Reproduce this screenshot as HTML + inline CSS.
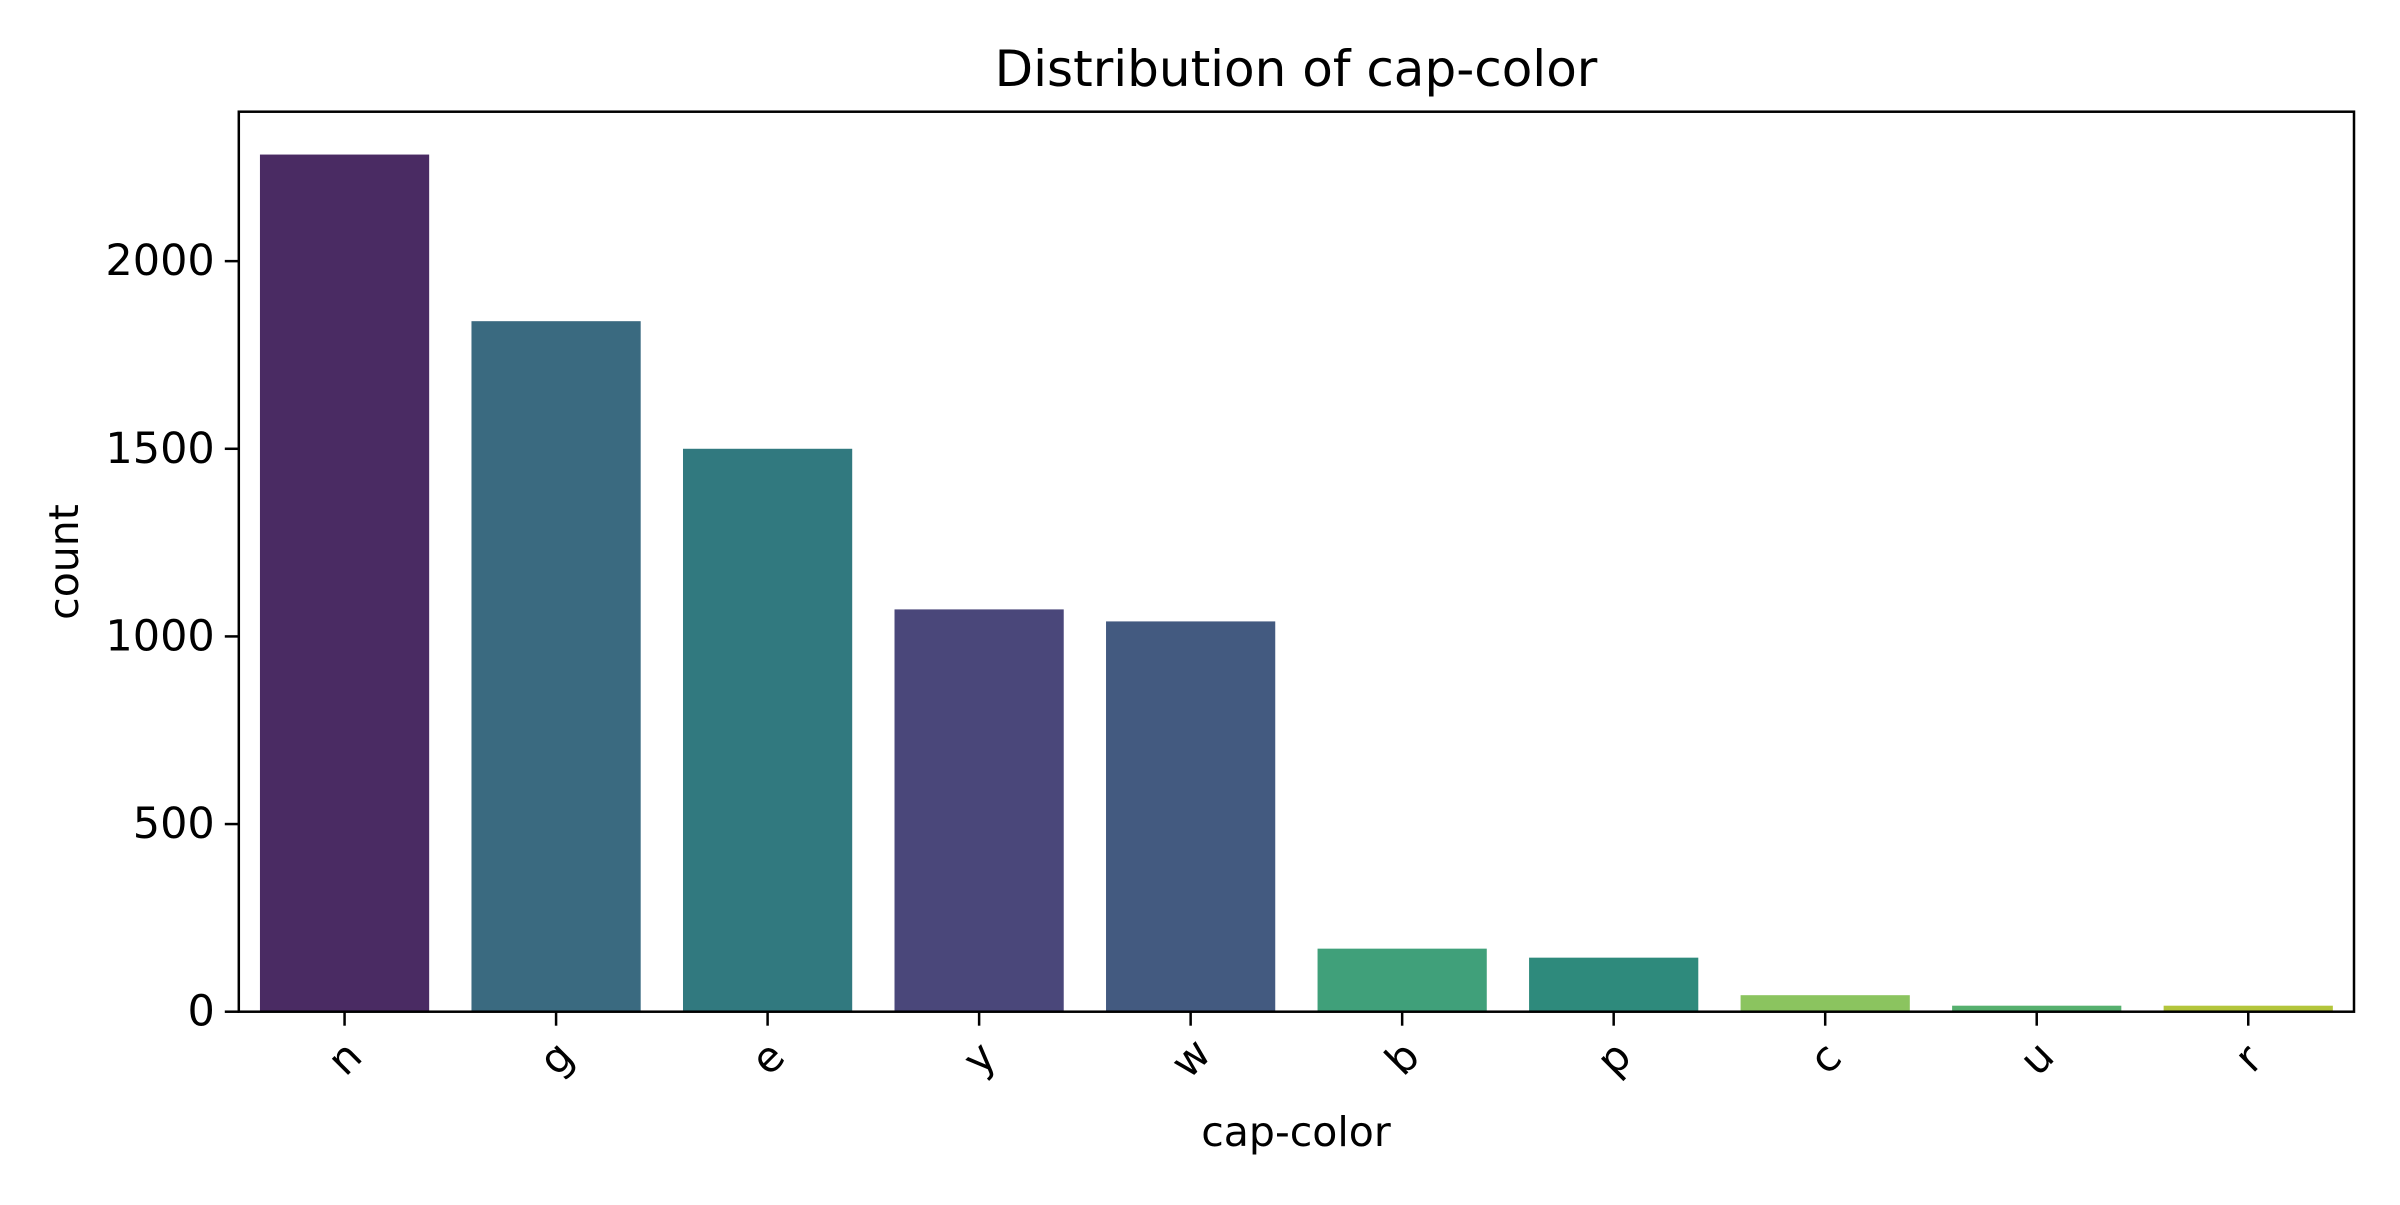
<!DOCTYPE html>
<html><head><meta charset="utf-8"><style>
html,body{margin:0;padding:0;background:#fff;}
svg text{font-family:"DejaVu Sans","Liberation Sans",sans-serif;fill:#000;}
</style></head><body>
<svg id="chart" width="2400" height="1200" viewBox="0 0 2400 1200" xmlns="http://www.w3.org/2000/svg">
<rect width="2400" height="1200" fill="#fff"/>
<text x="1296" y="86" font-size="50" text-anchor="middle">Distribution of cap-color</text>
<g id="bars"></g>
<g id="axes"></g>
<text x="1296" y="1146" font-size="41" text-anchor="middle">cap-color</text>
<text x="0" y="0" font-size="41" text-anchor="middle" transform="translate(78,562) rotate(-90)">count</text>
</svg>
<script>
const categories = ['n','g','e','y','w','b','p','c','u','r'];
const counts = [2284,1840,1500,1072,1040,168,144,44,16,16];
const barColors = ['#4a2b63','#3a6a80','#31797f','#4a477a','#435a80','#40a07a','#2e8a7c','#8bc45f','#56b06e','#b3c53b'];
const yTicks = [0,500,1000,1500,2000];

const L=238.8,R=2354,T=111.7,B=1011.7;
const NS='http://www.w3.org/2000/svg';
const yMax=Math.max(...counts)*1.05;
const xs=i=>L+(i+0.5)*(R-L)/categories.length;
const ys=v=>B-v*(B-T)/yMax;
const bw=0.8*(R-L)/categories.length;
function mk(tag,attrs,parent){const e=document.createElementNS(NS,tag);for(const k in attrs)e.setAttribute(k,attrs[k]);parent.appendChild(e);return e;}
const bars=document.getElementById('bars');
const axes=document.getElementById('axes');
categories.forEach((c,i)=>{
  const r=mk('rect',{x:xs(i)-bw/2,y:ys(counts[i]),width:bw,height:B-ys(counts[i]),fill:barColors[i]},bars);
  
  
  const t=mk('line',{x1:xs(i),x2:xs(i),y1:B,y2:B+14,stroke:'#000','stroke-width':2.5},axes);
  
  
  const lb=mk('text',{x:0,y:0,'font-size':42,'text-anchor':'middle','dominant-baseline':'central',transform:`translate(${xs(i)},1058) rotate(-45)`},axes);
  lb.textContent=c;
  
  
});
yTicks.forEach(v=>{
  const t=mk('line',{x1:L-14,x2:L,y1:ys(v),y2:ys(v),stroke:'#000','stroke-width':2.5},axes);
  
  
  const lb=mk('text',{x:L-24,y:ys(v),'font-size':43,'text-anchor':'end','dominant-baseline':'central'},axes);
  lb.textContent=v;
  
  
});
const fr=mk('rect',{x:L,y:T,width:R-L,height:B-T,fill:'none',stroke:'#000','stroke-width':2.5},axes);


</script>
</body></html>
